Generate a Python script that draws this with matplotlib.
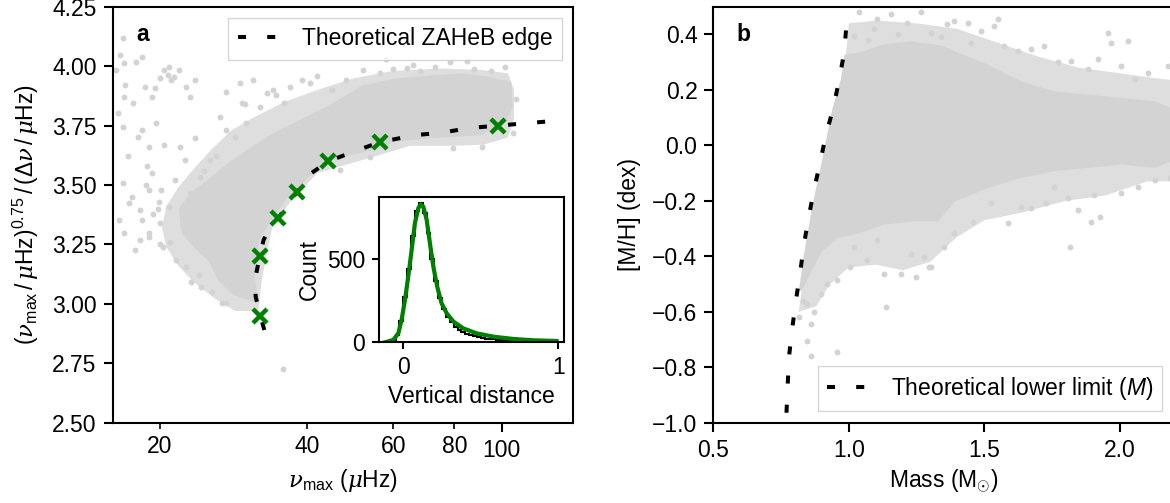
import matplotlib.pyplot as plt
import numpy as np
from matplotlib.lines import Line2D
from matplotlib.patches import Polygon

plt.rcParams.update({
    "font.family": ["Liberation Sans", "DejaVu Sans"],
    "font.size": 16.5,
    "mathtext.fontset": "custom",
    "mathtext.rm": "Liberation Sans",
    "mathtext.it": "Liberation Sans:italic",
    "mathtext.bf": "Liberation Sans:bold",
    "mathtext.cal": "DejaVu Serif:italic",
    "axes.linewidth": 1.5,
    "xtick.major.width": 1.5,
    "ytick.major.width": 1.5,
    "xtick.minor.width": 1.2,
    "xtick.major.size": 6.5,
    "ytick.major.size": 6.5,
    "xtick.minor.size": 4,
    "xtick.major.pad": 5,
    "ytick.major.pad": 5,
    "xtick.minor.pad": 5,
})

GREY = "#d3d3d3"
HAZE = "#dedede"

# ---- panel a: nu_max vs nu_max^0.75 / dnu ----
# outline of the densely populated part of the clump
core_a_numax = [31.5, 31.0, 31.7, 33.5, 36.3, 40.0, 43.9, 48.9, 54.6, 60.5, 71.4, 83.0,
                90.9, 101.8, 104.6, 104.1, 94.7, 83.0, 71.4, 60.5, 52.0, 44.5, 38.0,
                33.5, 30.5, 27.8, 25.3, 23.3, 22.0, 22.3, 23.6, 25.3, 26.5, 28.3]
core_a_ratio = [3.01, 3.13, 3.27, 3.35, 3.45, 3.535, 3.605, 3.63, 3.654, 3.689, 3.703, 3.71,
                3.717, 3.773, 3.829, 3.928, 3.949, 3.963, 3.955, 3.942, 3.913, 3.83, 3.76,
                3.703, 3.647, 3.591, 3.521, 3.465, 3.40, 3.30, 3.24, 3.184, 3.10, 3.044]

# looser envelope around it where the stars thin out
halo_a_numax = [31.8, 28.5, 26.0, 23.5, 21.8, 20.6, 20.2, 20.6, 21.8, 23.5, 25.5, 28.0,
                31.5, 36.0, 42.0, 50.0, 60.0, 75.0, 90.0, 103.0, 106.0, 106.0, 103.0,
                92.0, 80.0, 65.0, 55.0, 48.0, 42.0, 37.0, 34.0, 32.3]
halo_a_ratio = [2.97, 2.97, 3.02, 3.09, 3.16, 3.24, 3.32, 3.41, 3.49, 3.57, 3.65, 3.73,
                3.79, 3.85, 3.90, 3.95, 3.98, 3.99, 3.985, 3.97, 3.90, 3.78, 3.70,
                3.67, 3.665, 3.665, 3.62, 3.585, 3.55, 3.43, 3.33, 3.10]

# stars outside the dense part
stars_a_numax = [16.8, 16.6, 16.3, 16.9, 17.9, 18.4, 20.4, 20.8, 21.1, 21.4, 20.0, 20.9,
                 21.9, 22.6, 23.6, 23.0, 19.5, 19.3, 18.6, 17.6, 16.9, 16.4, 16.8, 18.4,
                 18.0, 19.0, 20.4, 22.0, 23.6, 22.5, 19.3, 16.8, 19.0, 20.1, 17.3, 18.4,
                 18.2, 16.9, 17.8, 16.5, 23.2, 24.3, 27.3, 27.3, 29.1, 31.0, 33.1, 29.5,
                 27.3, 26.5, 32.0, 34.6, 36.9, 39.0, 40.5, 35.8, 25.3, 24.1, 23.0, 20.9,
                 20.0, 19.0, 20.3, 21.6, 18.2, 22.6, 56.4, 63.9, 73.0, 78.4, 52.0, 101.8,
                 65.9, 79.5, 91.0, 53.8, 46.7, 35.7, 26.8, 21.0, 22.8, 24.6, 26.0, 28.5,
                 30.0, 45.0, 48.0, 88.0, 95.0, 105.5, 60.0, 68.0, 17.5, 18.8, 19.8, 21.5,
                 17.2, 24.0, 25.5, 29.8, 34.0, 42.0, 58.0, 85.0, 107.0, 17.0, 19.6, 19.0,
                 19.4, 18.7, 20.0, 19.9]
stars_a_ratio = [4.117, 4.047, 3.984, 4.012, 4.019, 4.04, 3.984, 3.963, 3.942, 3.955, 3.949, 3.998,
                 3.984, 3.913, 3.942, 3.871, 3.907, 3.871, 3.913, 3.844, 3.871, 3.802, 3.745, 3.731,
                 3.703, 3.661, 3.668, 3.661, 3.696, 3.605, 3.549, 3.507, 3.479, 3.479, 3.423, 3.353,
                 3.268, 3.297, 3.226, 3.353, 3.093, 3.072, 3.002, 3.892, 3.928, 3.942, 3.886, 3.844,
                 3.731, 3.787, 3.829, 3.879, 3.913, 3.942, 3.928, 3.844, 3.605, 3.535, 3.465, 3.409,
                 3.339, 3.282, 3.24, 3.184, 3.395, 3.156, 3.97, 3.991, 3.998, 4.019, 3.984, 3.998,
                 4.005, 3.654, 3.661, 3.619, 3.563, 2.724, 3.002, 3.26, 3.34, 3.56, 3.62, 3.70,
                 3.76, 3.90, 3.94, 3.99, 3.98, 3.72, 3.99, 3.98, 3.45, 3.58, 3.40, 3.52,
                 3.62, 3.12, 3.05, 3.84, 3.90, 3.96, 4.03, 4.02, 3.86, 3.92, 3.76, 3.30,
                 3.38, 3.50, 3.25, 3.43]

# theoretical zero-age helium-burning edge and its anchor points
edge_numax = [32.7, 32.1, 31.4, 31.3, 31.5, 32.0, 32.6, 33.6, 34.9, 38.1, 40.5, 44.2,
              51.3, 56.3, 66.5, 75.3, 86.1, 98.5, 112.5, 128.7]
edge_ratio = [2.89, 2.95, 3.03, 3.08, 3.13, 3.20, 3.27, 3.32, 3.36, 3.47, 3.545, 3.60,
              3.65, 3.68, 3.71, 3.72, 3.74, 3.75, 3.76, 3.77]
cross_numax = [32.0, 32.0, 34.9, 38.1, 44.2, 56.3, 98.5]
cross_ratio = [2.95, 3.20, 3.36, 3.47, 3.60, 3.68, 3.75]

# inset: distribution of vertical distance to the edge
dist_edges = np.linspace(-0.1, 1.0, 45)
dist_counts = [3, 15, 45, 130, 270, 440, 640, 790, 840, 780, 660, 500, 370, 265, 200, 150,
               120, 95, 75, 62, 52, 42, 36, 30, 25, 22, 19, 17, 15, 13, 12, 11, 10, 9, 8, 8,
               7, 7, 6, 6, 5, 5, 5, 4]
fit_dist = [-0.118, -0.065, -0.032, -0.011, 0.011, 0.032, 0.054, 0.075, 0.097, 0.112, 0.129,
            0.151, 0.172, 0.194, 0.219, 0.247, 0.280, 0.323, 0.387, 0.473, 0.581, 0.710,
            0.839, 0.989]
fit_count = [0, 14, 54, 135, 255, 396, 556, 717, 807, 831, 817, 737, 596, 456, 335, 235,
             175, 125, 84, 54, 34, 20, 12, 8]

# ---- panel b: mass vs metallicity ----
core_b_mass = [0.821, 0.840, 0.870, 0.907, 0.944, 0.976, 0.988, 1.043, 1.130, 1.229, 1.340,
               1.389, 1.513, 1.636, 1.759, 1.883, 2.006, 2.130, 2.191, 2.25, 2.25, 2.191,
               2.130, 2.006, 1.883, 1.759, 1.636, 1.513, 1.389, 1.327, 1.229, 1.130, 1.043,
               0.957, 0.896, 0.859]
core_b_feh = [-0.523, -0.390, -0.221, -0.052, 0.129, 0.238, 0.322, 0.33, 0.36, 0.37, 0.355,
              0.335, 0.286, 0.226, 0.19, 0.178, 0.166, 0.154, 0.129, 0.12, -0.06, -0.052,
              -0.076, -0.064, -0.076, -0.088, -0.112, -0.149, -0.197, -0.27, -0.27, -0.28,
              -0.31, -0.33, -0.38, -0.45]

halo_b_mass = [0.815, 0.830, 0.845, 0.873, 0.912, 0.947, 0.977, 0.992, 1.00, 1.10, 1.25,
               1.40, 1.55, 1.70, 1.85, 2.00, 2.15, 2.25, 2.25, 2.10, 1.95, 1.80, 1.65,
               1.50, 1.40, 1.30, 1.20, 1.10, 1.00, 0.93, 0.88]
halo_b_feh = [-0.60, -0.50, -0.40, -0.22, -0.05, 0.13, 0.25, 0.35, 0.44, 0.45, 0.44,
              0.42, 0.37, 0.32, 0.28, 0.26, 0.24, 0.23, -0.13, -0.13, -0.18, -0.20, -0.24,
              -0.27, -0.33, -0.42, -0.45, -0.43, -0.44, -0.50, -0.58]

stars_b_mass = [1.037, 1.105, 1.154, 1.216, 1.266, 1.303, 1.019, 1.093, 0.896, 0.920, 0.957,
                0.846, 0.815, 0.859, 0.846, 0.859, 0.957, 1.136, 1.006, 1.068, 1.130, 1.191,
                1.247, 1.296, 1.229, 1.105, 1.019, 1.303, 1.278, 1.352, 1.389, 1.457, 1.587,
                1.525, 1.636, 1.673, 1.729, 1.815, 1.846, 1.895, 1.926, 1.907, 2.006, 2.068,
                2.130, 2.185, 1.809, 1.759, 1.957, 1.968, 2.031, 2.179, 2.105, 1.920, 1.821,
                1.722, 1.673, 1.624, 1.550, 1.537, 1.439, 1.389, 1.364, 1.488, 1.574, 2.006,
                2.056, 1.883, 1.772, 1.07, 1.18, 1.34, 1.45, 0.83, 0.87]
stars_b_feh = [0.48, 0.455, 0.474, 0.443, 0.48, 0.407, 0.395, 0.419, -0.535, -0.499, -0.487,
               -0.571, -0.62, -0.643, -0.704, -0.758, -0.746, -0.583, -0.438, -0.414, -0.462,
               -0.462, -0.475, -0.438, -0.39, -0.342, -0.366, -0.438, -0.402, -0.366, -0.317,
               -0.275, -0.281, -0.209, -0.221, -0.227, -0.209, -0.366, -0.233, -0.275, -0.257,
               -0.179, -0.172, -0.149, -0.124, -0.118, -0.191, -0.149, 0.407, 0.371, 0.377,
               0.286, 0.262, 0.31, 0.304, 0.359, 0.347, 0.341, 0.455, 0.431, 0.443, 0.449,
               0.437, 0.413, 0.359, 0.286, 0.238, 0.274, 0.299, 0.38, 0.40, 0.39, 0.37,
               -0.56, -0.60]

limit_mass = [0.770, 0.779, 0.791, 0.804, 0.820, 0.834, 0.851, 0.871, 0.894, 0.915, 0.943,
              0.964, 0.983, 0.991]
limit_feh = [-0.964, -0.764, -0.662, -0.565, -0.462, -0.360, -0.263, -0.163, -0.062, 0.035,
             0.136, 0.234, 0.335, 0.431]

DASH = dict(color="black", lw=2.9, dashes=(2, 5.25), dash_capstyle="butt")


def cloud(ax, halo_x, halo_y, core_x, core_y, star_x, star_y):
    ax.add_patch(Polygon(np.column_stack([halo_x, halo_y]), closed=True,
                         facecolor=HAZE, edgecolor="none", zorder=0.5))
    ax.add_patch(Polygon(np.column_stack([core_x, core_y]), closed=True,
                         facecolor=GREY, edgecolor=GREY, lw=2, zorder=1))
    ax.scatter(star_x, star_y, s=18, color=GREY, lw=0, zorder=1)


fig = plt.figure(figsize=(11.7, 5.03), dpi=100)
ax_a = fig.add_axes([0.0962, 0.1596, 0.3936, 0.827])
ax_b = fig.add_axes([0.6097, 0.1596, 0.3936, 0.827])
ax_in = fig.add_axes([0.3239, 0.3195, 0.1581, 0.2883])

# panel a
ax_a.set_xscale("log")
cloud(ax_a, halo_a_numax, halo_a_ratio, core_a_numax, core_a_ratio,
      stars_a_numax, stars_a_ratio)
ax_a.plot(edge_numax, edge_ratio, zorder=3, **DASH)
ax_a.plot(cross_numax, cross_ratio, ls="none", marker="x", ms=10, mew=3.2,
          color="green", zorder=4)
ax_a.set_xlim(16, 140)
ax_a.set_ylim(2.5, 4.25)
ax_a.set_xticks([100], ["100"])
ax_a.set_xticks([20, 40, 60, 80], ["20", "40", "60", "80"], minor=True)
ax_a.set_yticks([2.5, 2.75, 3.0, 3.25, 3.5, 3.75, 4.0, 4.25])
ax_a.set_yticklabels(["2.50", "2.75", "3.00", "3.25", "3.50", "3.75", "4.00", "4.25"])
ax_a.set_xlabel(r"$\mathcal{\nu}_{\mathrm{max}}$ ($\mathcal{\mu}$Hz)")
ax_a.set_ylabel(r"$(\mathcal{\nu}_{\mathrm{max}}\,/\,\mathcal{\mu}\mathrm{Hz})^{0.75}"
                r"\,/\,(\Delta\mathcal{\nu}\,/\,\mathcal{\mu}\mathrm{Hz})$", labelpad=8)
ax_a.text(0.065, 0.933, "a", transform=ax_a.transAxes, fontweight="bold",
          ha="center", va="center")
ax_a.legend([Line2D([], [], **DASH)], ["Theoretical ZAHeB edge"], loc="upper right",
            fancybox=False, handlelength=2.0)

# inset histogram
ax_in.stairs(dist_counts, dist_edges, color="black", lw=1.5)
ax_in.plot(fit_dist, fit_count, color="green", lw=3)
ax_in.set_xlim(-0.157, 1.037)
ax_in.set_ylim(0, 873)
ax_in.set_xticks([0, 1])
ax_in.set_yticks([0, 500])
ax_in.tick_params(length=5)
ax_in.set_xlabel("Vertical distance", labelpad=4)
ax_in.set_ylabel("Count", labelpad=4)

# panel b
cloud(ax_b, halo_b_mass, halo_b_feh, core_b_mass, core_b_feh,
      stars_b_mass, stars_b_feh)
ax_b.plot(limit_mass, limit_feh, zorder=3, **DASH)
ax_b.set_xlim(0.5, 2.2)
ax_b.set_ylim(-1.0, 0.5)
ax_b.set_xticks([0.5, 1.0, 1.5, 2.0])
ax_b.set_yticks([-1.0, -0.8, -0.6, -0.4, -0.2, 0.0, 0.2, 0.4])
ax_b.set_xlabel(r"Mass (M$_{\odot}$)")
ax_b.set_ylabel("[M/H] (dex)", labelpad=8)
ax_b.text(0.065, 0.933, "b", transform=ax_b.transAxes, fontweight="bold",
          ha="center", va="center")
ax_b.legend([Line2D([], [], **DASH)], [r"Theoretical lower limit ($\mathit{M}$)"],
            loc="lower right", fancybox=False)

fig.savefig("out.png", dpi=100)
